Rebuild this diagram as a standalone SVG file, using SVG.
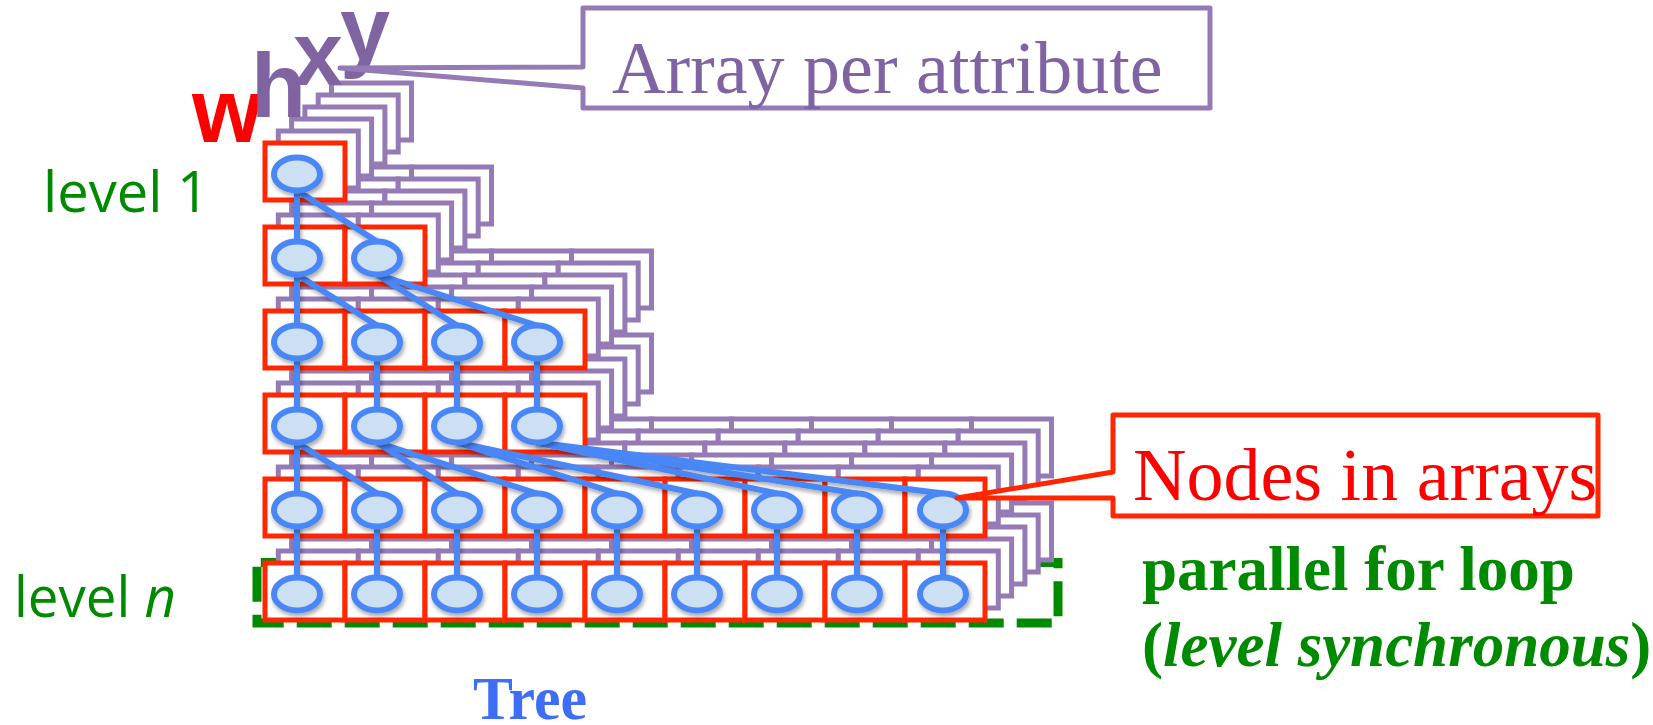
<svg xmlns="http://www.w3.org/2000/svg" xmlns:xlink="http://www.w3.org/1999/xlink" width="1653" height="725" viewBox="0 0 1653 725">
  <style>
    .pl { fill: #ffffff; stroke: #957bb5; stroke-width: 5; }
    .rd { fill: #ffffff; stroke: #ff2600; stroke-width: 5; }
    .edge { stroke: #4a86f6; stroke-width: 6; stroke-linecap: round; fill: none; }
    .node { fill: #cddff2; stroke: #4a86f6; stroke-width: 6; }
    .serif { font-family: "Liberation Serif", "Times New Roman", serif; }
    .sans { font-family: "Open Sans", "Noto Sans", "Liberation Sans", sans-serif; }
    .grn { fill: #008a00; }
    .attr { font-family: "Liberation Sans", Arial, sans-serif; font-weight: bold; font-size: 90px; }
  </style>
  <defs>
    <filter id="shadow" x="-20%" y="-20%" width="140%" height="160%">
      <feDropShadow dx="1.5" dy="3" stdDeviation="2" flood-color="#000000" flood-opacity="0.35"/>
    </filter>
    <!-- array rows: n cells of 80 x 57 -->
    <g id="row1"><rect x="0" y="0" width="80" height="57"/></g>
    <g id="row2"><rect x="0" y="0" width="80" height="57"/><rect x="80" y="0" width="80" height="57"/></g>
    <g id="row4">
      <rect x="0" y="0" width="80" height="57"/><rect x="80" y="0" width="80" height="57"/>
      <rect x="160" y="0" width="80" height="57"/><rect x="240" y="0" width="80" height="57"/>
    </g>
    <g id="row9">
      <rect x="0" y="0" width="80" height="57"/><rect x="80" y="0" width="80" height="57"/>
      <rect x="160" y="0" width="80" height="57"/><rect x="240" y="0" width="80" height="57"/>
      <rect x="320" y="0" width="80" height="57"/><rect x="400" y="0" width="80" height="57"/>
      <rect x="480" y="0" width="80" height="57"/><rect x="560" y="0" width="80" height="57"/>
      <rect x="640" y="0" width="80" height="57"/>
    </g>
  </defs>

  <rect width="1653" height="725" fill="#ffffff"/>

  <!-- parallel loop frame around the last level -->
  <path id="loop-frame" d="M257,562.5 V623 H1058 V562.5 Z" fill="none" stroke="#008a00" stroke-width="9" stroke-dasharray="35 13" stroke-dashoffset="43.8"/>

  <!-- attribute arrays per level, drawn from the last level upward; purple copies behind each red row -->
  <g id="level6" transform="translate(265,563)">
    <use href="#row9" x="66.5" y="-60" class="pl"/>
    <use href="#row9" x="53.2" y="-48" class="pl"/>
    <use href="#row9" x="39.9" y="-36" class="pl"/>
    <use href="#row9" x="26.6" y="-24" class="pl"/>
    <use href="#row9" x="13.3" y="-12" class="pl"/>
    <use href="#row9" x="0" y="0" class="rd"/>
  </g>
  <g id="level5" transform="translate(265,479)">
    <use href="#row9" x="66.5" y="-60" class="pl"/>
    <use href="#row9" x="53.2" y="-48" class="pl"/>
    <use href="#row9" x="39.9" y="-36" class="pl"/>
    <use href="#row9" x="26.6" y="-24" class="pl"/>
    <use href="#row9" x="13.3" y="-12" class="pl"/>
    <use href="#row9" x="0" y="0" class="rd"/>
  </g>
  <g id="level4" transform="translate(265,395)">
    <use href="#row4" x="66.5" y="-60" class="pl"/>
    <use href="#row4" x="53.2" y="-48" class="pl"/>
    <use href="#row4" x="39.9" y="-36" class="pl"/>
    <use href="#row4" x="26.6" y="-24" class="pl"/>
    <use href="#row4" x="13.3" y="-12" class="pl"/>
    <use href="#row4" x="0" y="0" class="rd"/>
  </g>
  <g id="level3" transform="translate(265,311)">
    <use href="#row4" x="66.5" y="-60" class="pl"/>
    <use href="#row4" x="53.2" y="-48" class="pl"/>
    <use href="#row4" x="39.9" y="-36" class="pl"/>
    <use href="#row4" x="26.6" y="-24" class="pl"/>
    <use href="#row4" x="13.3" y="-12" class="pl"/>
    <use href="#row4" x="0" y="0" class="rd"/>
  </g>
  <g id="level2" transform="translate(265,227)">
    <use href="#row2" x="66.5" y="-60" class="pl"/>
    <use href="#row2" x="53.2" y="-48" class="pl"/>
    <use href="#row2" x="39.9" y="-36" class="pl"/>
    <use href="#row2" x="26.6" y="-24" class="pl"/>
    <use href="#row2" x="13.3" y="-12" class="pl"/>
    <use href="#row2" x="0" y="0" class="rd"/>
  </g>
  <g id="level1" transform="translate(265,143)">
    <use href="#row1" x="66.5" y="-60" class="pl"/>
    <use href="#row1" x="53.2" y="-48" class="pl"/>
    <use href="#row1" x="39.9" y="-36" class="pl"/>
    <use href="#row1" x="26.6" y="-24" class="pl"/>
    <use href="#row1" x="13.3" y="-12" class="pl"/>
    <use href="#row1" x="0" y="0" class="rd"/>
  </g>

  <!-- tree edges -->
  <g id="connectors" class="edge" filter="url(#shadow)">
    <line x1="297" y1="190.5" x2="297" y2="241.5"/>
    <line x1="297" y1="190.5" x2="377" y2="241.5"/>

    <line x1="297" y1="274.5" x2="297" y2="325.5"/>
    <line x1="297" y1="274.5" x2="377" y2="325.5"/>
    <line x1="377" y1="274.5" x2="457" y2="325.5"/>
    <line x1="377" y1="274.5" x2="537" y2="325.5"/>

    <line x1="297" y1="358.5" x2="297" y2="409.5"/>
    <line x1="377" y1="358.5" x2="377" y2="409.5"/>
    <line x1="457" y1="358.5" x2="457" y2="409.5"/>
    <line x1="537" y1="358.5" x2="537" y2="409.5"/>

    <line x1="297" y1="442.5" x2="297" y2="493.5"/>
    <line x1="297" y1="442.5" x2="377" y2="493.5"/>
    <line x1="377" y1="442.5" x2="457" y2="493.5"/>
    <line x1="377" y1="442.5" x2="537" y2="493.5"/>
    <line x1="457" y1="442.5" x2="617" y2="493.5"/>
    <line x1="457" y1="442.5" x2="697" y2="493.5"/>
    <line x1="537" y1="442.5" x2="777" y2="493.5"/>
    <line x1="537" y1="442.5" x2="857" y2="493.5"/>
    <line x1="537" y1="442.5" x2="943" y2="493.5"/>

    <line x1="297" y1="526.5" x2="297" y2="577.5"/>
    <line x1="377" y1="526.5" x2="377" y2="577.5"/>
    <line x1="457" y1="526.5" x2="457" y2="577.5"/>
    <line x1="537" y1="526.5" x2="537" y2="577.5"/>
    <line x1="617" y1="526.5" x2="617" y2="577.5"/>
    <line x1="697" y1="526.5" x2="697" y2="577.5"/>
    <line x1="777" y1="526.5" x2="777" y2="577.5"/>
    <line x1="857" y1="526.5" x2="857" y2="577.5"/>
    <line x1="943" y1="526.5" x2="943" y2="577.5"/>
  </g>

  <!-- tree nodes stored in the arrays -->
  <g id="tree-nodes" class="node" filter="url(#shadow)">
    <ellipse id="n1-0" cx="297" cy="174" rx="23" ry="16.5"/>

    <ellipse id="n2-0" cx="297" cy="258" rx="23" ry="16.5"/>
    <ellipse id="n2-1" cx="377" cy="258" rx="23" ry="16.5"/>

    <ellipse id="n3-0" cx="297" cy="342" rx="23" ry="16.5"/>
    <ellipse id="n3-1" cx="377" cy="342" rx="23" ry="16.5"/>
    <ellipse id="n3-2" cx="457" cy="342" rx="23" ry="16.5"/>
    <ellipse id="n3-3" cx="537" cy="342" rx="23" ry="16.5"/>

    <ellipse id="n4-0" cx="297" cy="426" rx="23" ry="16.5"/>
    <ellipse id="n4-1" cx="377" cy="426" rx="23" ry="16.5"/>
    <ellipse id="n4-2" cx="457" cy="426" rx="23" ry="16.5"/>
    <ellipse id="n4-3" cx="537" cy="426" rx="23" ry="16.5"/>

    <ellipse id="n5-0" cx="297" cy="510" rx="23" ry="16.5"/>
    <ellipse id="n5-1" cx="377" cy="510" rx="23" ry="16.5"/>
    <ellipse id="n5-2" cx="457" cy="510" rx="23" ry="16.5"/>
    <ellipse id="n5-3" cx="537" cy="510" rx="23" ry="16.5"/>
    <ellipse id="n5-4" cx="617" cy="510" rx="23" ry="16.5"/>
    <ellipse id="n5-5" cx="697" cy="510" rx="23" ry="16.5"/>
    <ellipse id="n5-6" cx="777" cy="510" rx="23" ry="16.5"/>
    <ellipse id="n5-7" cx="857" cy="510" rx="23" ry="16.5"/>
    <ellipse id="n5-8" cx="943" cy="510" rx="23" ry="16.5"/>

    <ellipse id="n6-0" cx="297" cy="594" rx="23" ry="16.5"/>
    <ellipse id="n6-1" cx="377" cy="594" rx="23" ry="16.5"/>
    <ellipse id="n6-2" cx="457" cy="594" rx="23" ry="16.5"/>
    <ellipse id="n6-3" cx="537" cy="594" rx="23" ry="16.5"/>
    <ellipse id="n6-4" cx="617" cy="594" rx="23" ry="16.5"/>
    <ellipse id="n6-5" cx="697" cy="594" rx="23" ry="16.5"/>
    <ellipse id="n6-6" cx="777" cy="594" rx="23" ry="16.5"/>
    <ellipse id="n6-7" cx="857" cy="594" rx="23" ry="16.5"/>
    <ellipse id="n6-8" cx="943" cy="594" rx="23" ry="16.5"/>
  </g>

  <!-- attribute names -->
  <g id="attribute-names" class="attr">
    <text x="192" y="142" fill="#ff0000">w</text>
    <text x="251" y="117" fill="#8064a2">h</text>
    <text x="293" y="85" fill="#8064a2">x</text>
    <text x="340" y="60" fill="#8064a2">y</text>
  </g>

  <!-- callouts -->
  <g id="callout-attribute">
    <path d="M340,68 L583,67 V8 H1210 V108 H583 V88 Z" fill="#ffffff" stroke="#957bb5" stroke-width="5" stroke-linejoin="round"/>
    <text x="612" y="93" class="serif" font-size="74" fill="#7f63a3">Array per attribute</text>
  </g>
  <g id="callout-nodes">
    <path d="M957,498 L1113,472 V415 H1598 V516 H1113 V498 Z" fill="#ffffff" stroke="#ff2600" stroke-width="5" stroke-linejoin="round"/>
    <text x="1133" y="500" class="serif" font-size="74" fill="#ff0000">Nodes in arrays</text>
  </g>

  <!-- level labels -->
  <g id="labels">
    <text x="43" y="212" class="sans grn" font-size="56" textLength="166" lengthAdjust="spacingAndGlyphs">level 1</text>
    <text x="14" y="617" class="sans grn" font-size="56" textLength="162" lengthAdjust="spacingAndGlyphs">level <tspan font-style="italic">n</tspan></text>
    <text x="1142" y="590" class="serif grn" font-size="63" font-weight="bold">parallel for loop</text>
    <text x="1142" y="666" class="serif grn" font-size="63" font-weight="bold">(<tspan font-style="italic">level synchronous</tspan>)</text>
    <text x="473" y="719" class="serif" font-size="62" font-weight="bold" fill="#3d6ef5" textLength="114" lengthAdjust="spacingAndGlyphs">Tree</text>
  </g>
</svg>
